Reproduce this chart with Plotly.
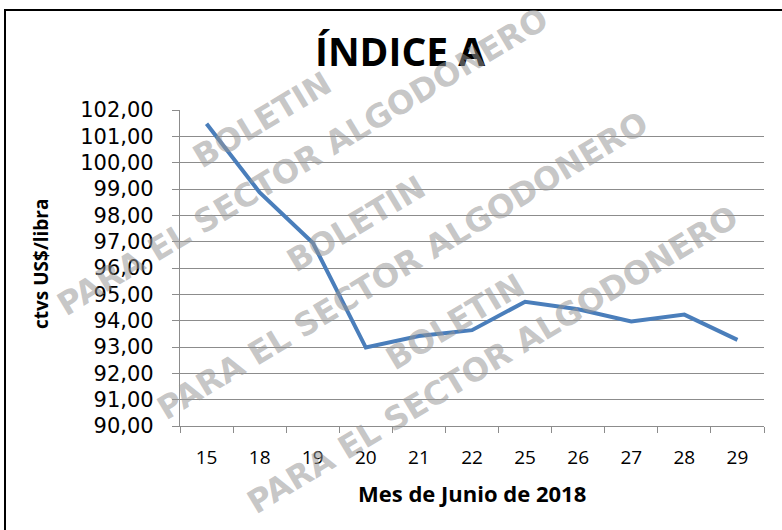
import plotly.graph_objects as go

# ---- data ----
dias = ["15", "18", "19", "20", "21", "22", "25", "26", "27", "28", "29"]
indice_a = [101.48, 98.87, 96.96, 92.98, 93.42, 93.64, 94.72, 94.43, 93.97, 94.23, 93.27]
y_ticks = [90, 91, 92, 93, 94, 95, 96, 97, 98, 99, 100, 101, 102]

titulo = "ÍNDICE A"
titulo_x = "Mes de Junio de 2018"
titulo_y = "ctvs US$/libra"
marca_1 = "BOLETIN"
marca_2 = "PARA EL SECTOR ALGODONERO"

W, H = 782, 530
L, R, T, B = 180, 18, 110, 104
PW, PH = W - L - R, H - T - B


def px(x):
    return (x - L) / PW


def py(y):
    return (H - B - y) / PH


fig = go.Figure()
fig.add_trace(go.Scatter(
    x=dias, y=indice_a, mode="lines",
    line=dict(color="#4A7EBB", width=4),
    hoverinfo="x+y", showlegend=False,
))

grid = "#8C8C8C"
fig.update_layout(
    width=W, height=H,
    margin=dict(l=L, r=R, t=T, b=B),
    paper_bgcolor="white", plot_bgcolor="white",
    separators=",.",
    showlegend=False,
    xaxis=dict(
        type="category", range=[-0.5, len(dias) - 0.5],
        tickson="boundaries", ticks="outside", ticklen=6,
        tickcolor=grid, tickwidth=1.3, showgrid=False, showline=True,
        linecolor=grid, linewidth=1.3, zeroline=False,
        tickfont=dict(family="Open Sans", size=19, color="black"),
        ticklabelstandoff=14,
    ),
    yaxis=dict(
        range=[90, 102], tickvals=y_ticks, tickformat=".2f",
        ticks="outside", ticklen=7, tickcolor=grid, tickwidth=1.3,
        showgrid=True, gridcolor=grid, gridwidth=1.3,
        showline=True, linecolor=grid, linewidth=1.3, zeroline=False,
        tickfont=dict(family="DejaVu Sans", size=21, color="black"),
        ticklabelstandoff=14,
    ),
)

annotations = [
    dict(text=titulo, x=px(400), y=py(50), xref="paper", yref="paper",
         xanchor="center", yanchor="middle", showarrow=False,
         font=dict(family="Open Sans", size=39, color="black", weight="bold")),
    dict(text=titulo_x, x=px(472), y=py(493), xref="paper", yref="paper",
         xanchor="center", yanchor="middle", showarrow=False,
         font=dict(family="Open Sans", size=22, color="black", weight="bold")),
    dict(text=titulo_y, x=px(41), y=py(264), xref="paper", yref="paper",
         xanchor="center", yanchor="middle", showarrow=False, textangle=-90,
         font=dict(family="Open Sans", size=19, color="black", weight="bold")),
]

wm_font = dict(family="DejaVu Sans", size=32, color="rgba(150,150,150,0.55)", weight="bold")
wm_pos = [
    (marca_1, 262, 120), (marca_2, 302, 162),
    (marca_1, 356, 224), (marca_2, 402, 266),
    (marca_1, 455, 322), (marca_2, 492, 360),
]
for txt, cx, cy in wm_pos:
    annotations.append(dict(
        text=txt, x=px(cx), y=py(cy), xref="paper", yref="paper",
        xanchor="center", yanchor="middle", showarrow=False,
        textangle=-31, font=wm_font,
    ))
fig.update_layout(annotations=annotations)

fig.add_shape(type="rect", xref="paper", yref="paper",
              x0=px(5), x1=px(800), y0=py(560), y1=py(10),
              line=dict(color="black", width=2), fillcolor="rgba(0,0,0,0)",
              layer="above")

fig.write_html("out.html", config={"displayModeBar": False},
               post_script="document.body.style.margin='0';")
